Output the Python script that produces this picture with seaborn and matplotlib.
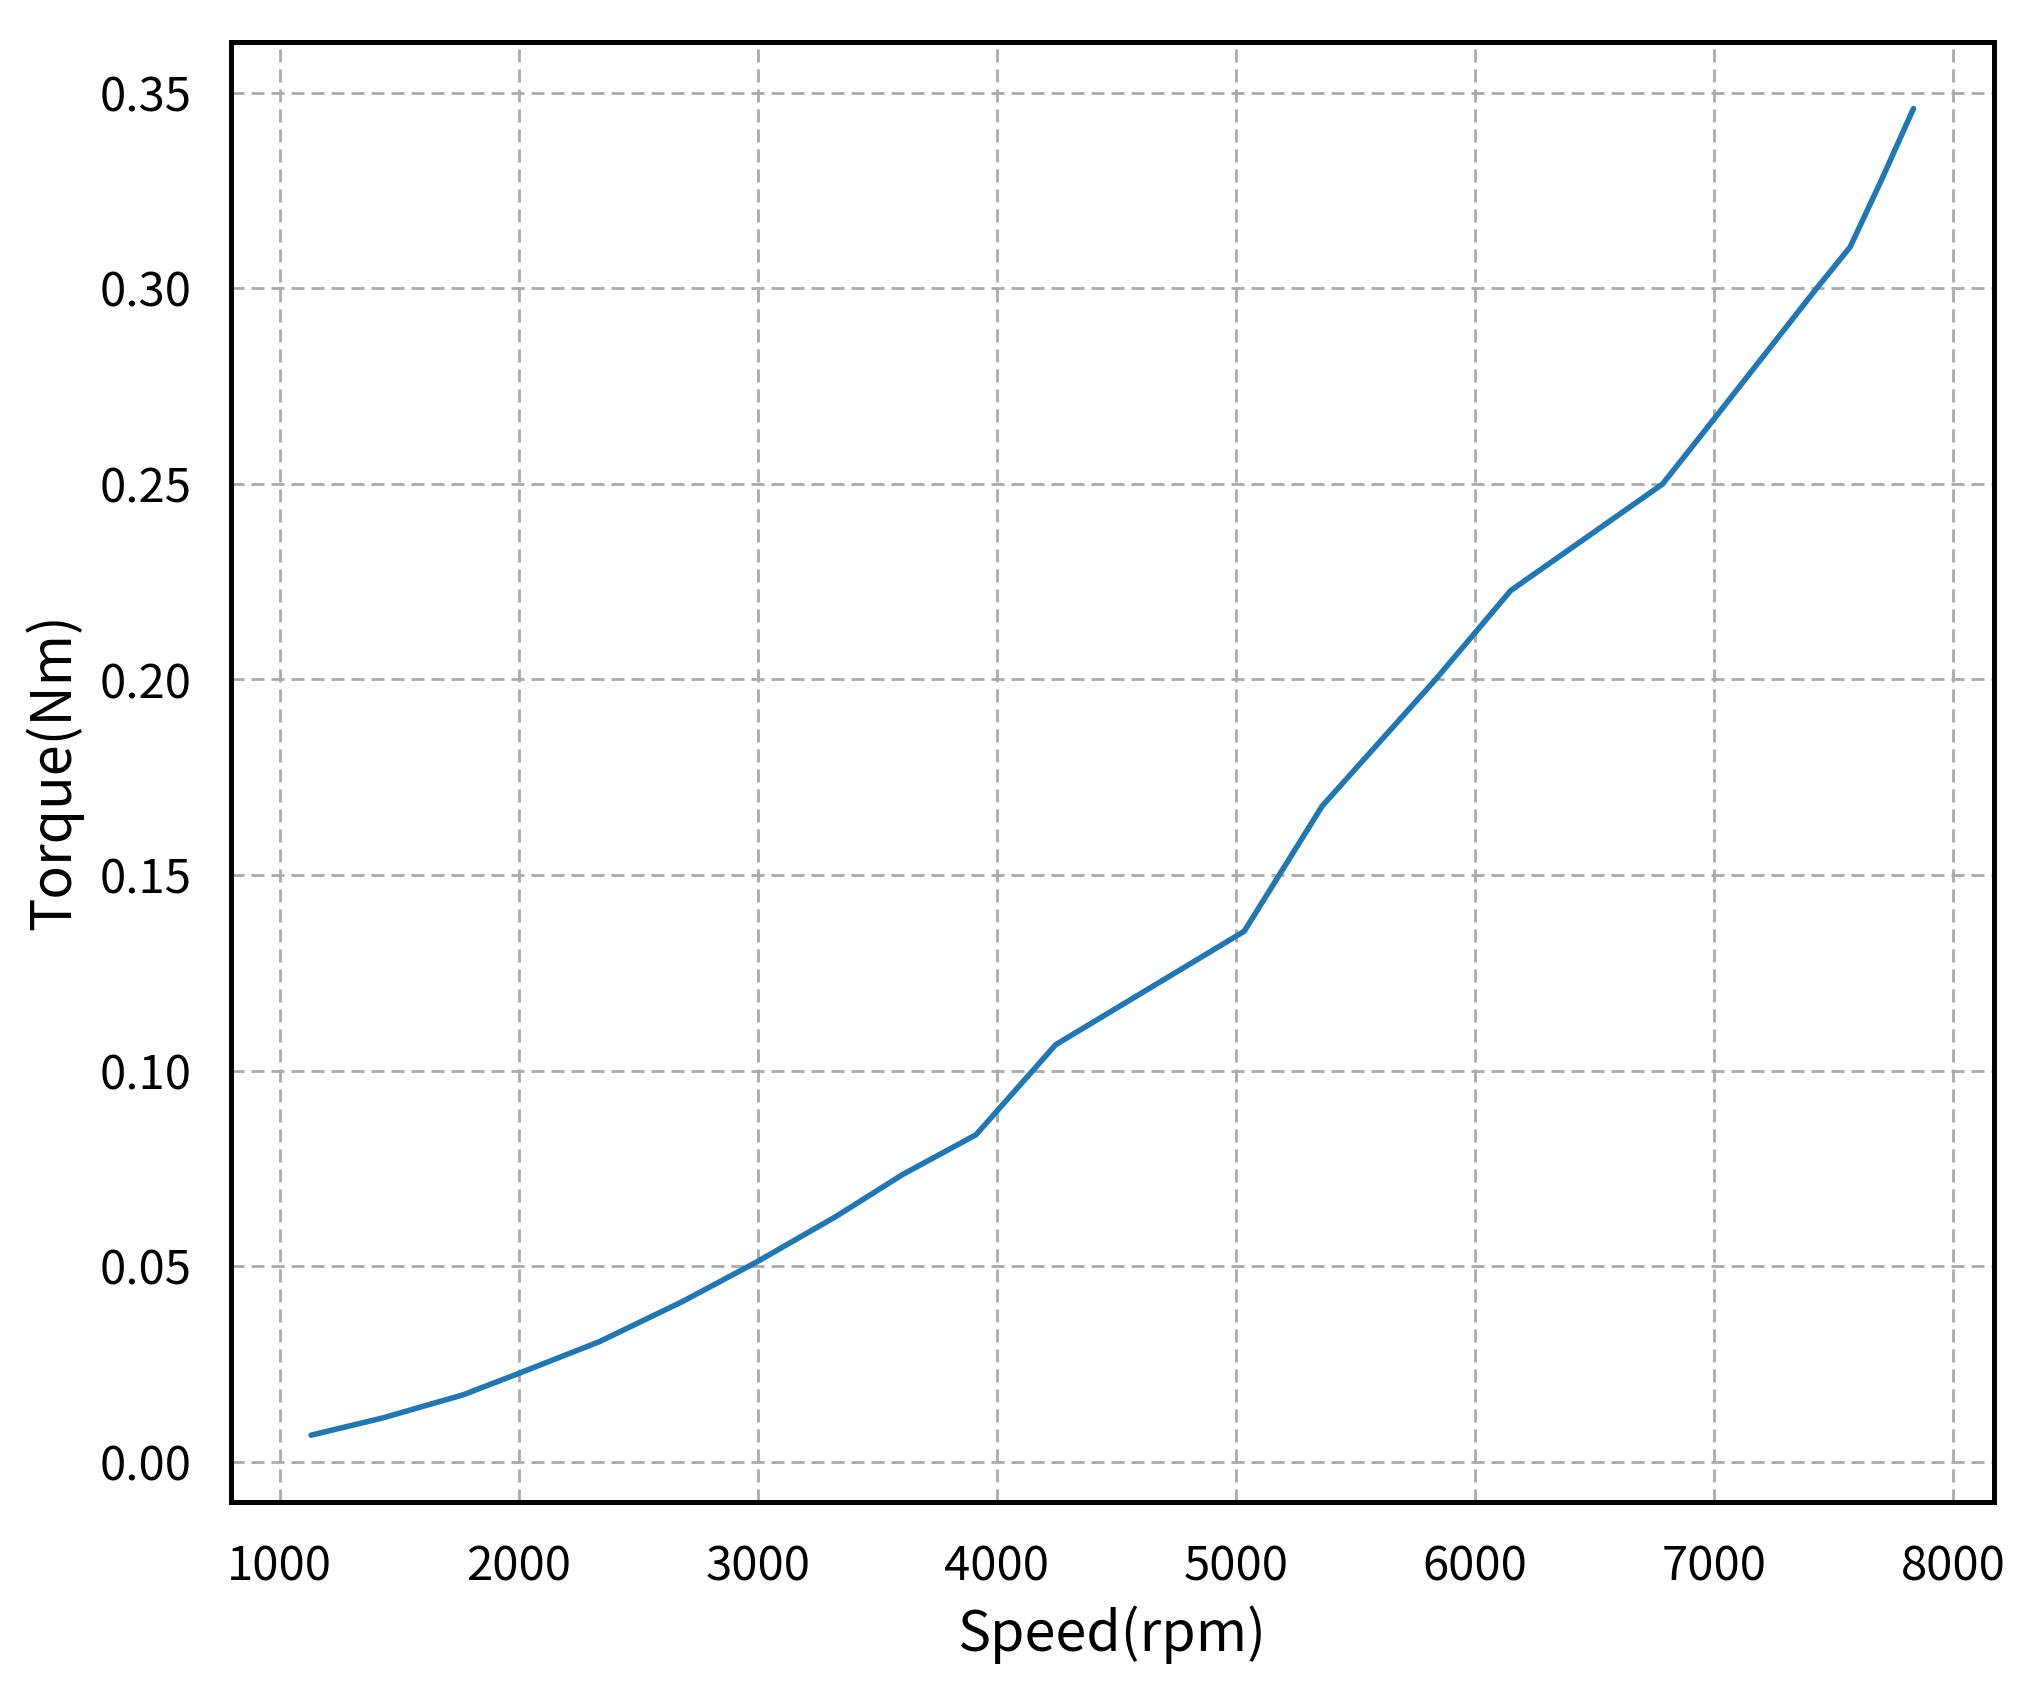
import numpy as np
import pandas as pd
import seaborn as sns
import matplotlib.pyplot as plt

# values
speed = [1131, 1430, 1766, 2000, 2337, 2686, 2993, 3327, 3605, 3913,
         4246, 5035, 5361, 5836, 6150, 6785, 7000, 7424, 7570, 7700, 7835]
torque = [0.0068, 0.0112, 0.0171, 0.0226, 0.0307, 0.0410, 0.0510, 0.0627, 0.0734, 0.0836,
          0.1066, 0.1356, 0.1676, 0.2000, 0.2227, 0.2499, 0.2665, 0.2995, 0.3105, 0.3275, 0.3459]
x_ticks = [1000, 2000, 3000, 4000, 5000, 6000, 7000, 8000]
y_ticks = [0.00, 0.05, 0.10, 0.15, 0.20, 0.25, 0.30, 0.35]

df = pd.DataFrame({'speed': speed, 'torque': torque})

sns.set_theme(style='whitegrid')
plt.rcParams['font.family'] = ['Noto Sans CJK SC', 'DejaVu Sans']

fig = plt.figure(figsize=(10.13, 8.445), dpi=200)
ax = fig.add_axes([0.114, 0.111, 0.870, 0.864])

sns.lineplot(data=df, x='speed', y='torque', ax=ax, color='#1f77b4', linewidth=2.0)

ax.set_xticks(x_ticks)
ax.set_yticks(y_ticks)
ax.set_yticklabels([f'{v:.2f}' for v in y_ticks])
ax.margins(x=0.05, y=0.05)

ax.grid(True, color='#aaaaaa', linestyle=(0, (4.7, 2.5)), linewidth=1.0)
for s in ax.spines.values():
    s.set_color('black')
    s.set_linewidth(1.8)
ax.set_facecolor('white')
ax.tick_params(axis='x', length=0, pad=15, labelsize=17, colors='black')
ax.tick_params(axis='y', length=0, pad=14, labelsize=17, colors='black')

ax.set_xlabel('Speed(rpm)', fontsize=20, labelpad=5, color='black')
ax.set_ylabel('Torque(Nm)', fontsize=20, labelpad=6, color='black')

fig.savefig('out.png', dpi=200, facecolor='white')
